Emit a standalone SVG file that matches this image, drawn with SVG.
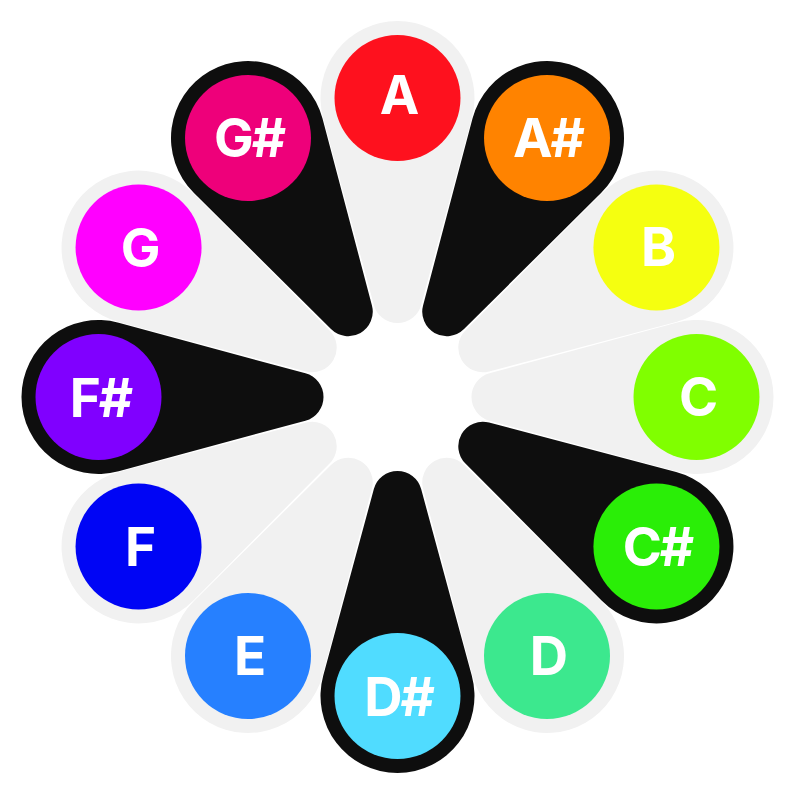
<svg xmlns="http://www.w3.org/2000/svg" width="795" height="794" viewBox="0 0 795 794">
<defs>
<path id="drop" d="M 23.645 -92.08 L 74.31 -278.84 A 77 77 0 1 0 -74.31 -278.84 L -23.645 -92.08 A 24.5 24.5 0 0 0 23.645 -92.08 Z"/>
</defs>
<style>
.nat{fill:#f1f1f1}
.shp{fill:#0e0e0e}
.lbl{font-family:Inter,"Liberation Sans",sans-serif;font-weight:700;font-size:53px;fill:#ffffff;text-anchor:middle;letter-spacing:-2px}
</style>
<rect width="795" height="794" fill="#ffffff"/>
<g id="connectors"></g>
<g id="node-A"><use href="#drop" class="nat" transform="translate(397.5 397) rotate(0)"/><circle cx="397.5" cy="98" r="63" fill="#fe111e"/><text class="lbl" x="398.5" y="114">A</text></g>
<g id="node-B"><use href="#drop" class="nat" transform="translate(397.5 397) rotate(60)"/><circle cx="656.44" cy="247.5" r="63" fill="#f5ff10"/><text class="lbl" x="657.44" y="266">B</text></g>
<g id="node-C"><use href="#drop" class="nat" transform="translate(397.5 397) rotate(90)"/><circle cx="696.5" cy="397" r="63" fill="#80ff00"/><text class="lbl" x="697.5" y="416">C</text></g>
<g id="node-D"><use href="#drop" class="nat" transform="translate(397.5 397) rotate(150)"/><circle cx="547" cy="655.94" r="63" fill="#3ce88e"/><text class="lbl" x="548" y="675">D</text></g>
<g id="node-E"><use href="#drop" class="nat" transform="translate(397.5 397) rotate(210)"/><circle cx="248" cy="655.94" r="63" fill="#2680ff"/><text class="lbl" x="249" y="675">E</text></g>
<g id="node-F"><use href="#drop" class="nat" transform="translate(397.5 397) rotate(240)"/><circle cx="138.56" cy="546.5" r="63" fill="#0005f5"/><text class="lbl" x="139.56" y="566">F</text></g>
<g id="node-G"><use href="#drop" class="nat" transform="translate(397.5 397) rotate(300)"/><circle cx="138.56" cy="247.5" r="63" fill="#ff00ff"/><text class="lbl" x="139.56" y="266.5">G</text></g>
<g id="node-Asharp"><use href="#drop" class="shp" transform="translate(397.5 397) rotate(30)"/><circle cx="547" cy="138.06" r="63" fill="#ff8300"/><text class="lbl" x="548" y="157">A#</text></g>
<g id="node-Csharp"><use href="#drop" class="shp" transform="translate(397.5 397) rotate(120)"/><circle cx="656.44" cy="546.5" r="63" fill="#2aee07"/><text class="lbl" x="657.44" y="566">C#</text></g>
<g id="node-Dsharp"><use href="#drop" class="shp" transform="translate(397.5 397) rotate(180)"/><circle cx="397.5" cy="696" r="63" fill="#50dcff"/><text class="lbl" x="398.5" y="716">D#</text></g>
<g id="node-Fsharp"><use href="#drop" class="shp" transform="translate(397.5 397) rotate(270)"/><circle cx="98.5" cy="397" r="63" fill="#8000ff"/><text class="lbl" x="100.5" y="416.5">F#</text></g>
<g id="node-Gsharp"><use href="#drop" class="shp" transform="translate(397.5 397) rotate(330)"/><circle cx="248" cy="138.06" r="63" fill="#ee007a"/><text class="lbl" x="249" y="157">G#</text></g>
</svg>
